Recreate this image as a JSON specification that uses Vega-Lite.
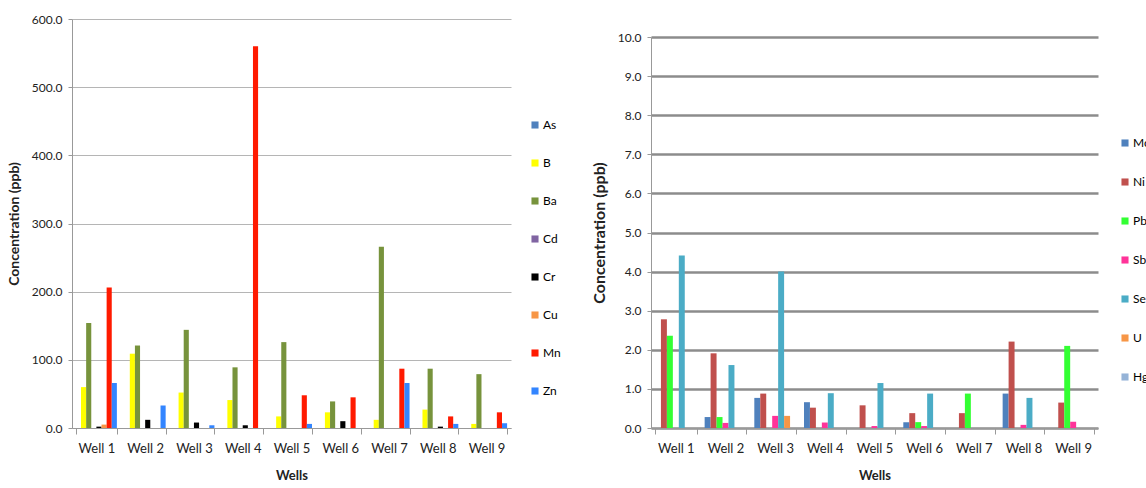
{
  "$schema": "https://vega.github.io/schema/vega-lite/v6.json",
  "padding": {"left": 7, "top": 13, "right": 0, "bottom": 0},
  "background": "white",
  "config": {
    "font": "Lato",
    "view": {"stroke": null},
    "axis": {"labelColor": "#222", "titleColor": "#222", "labelFont": "Lato", "titleFont": "Lato"},
    "legend": {"labelFont": "Lato"}
  },
  "datasets": {
    "metals1": [
      {"well": "Well 1", "element": "B", "value": 60},
      {"well": "Well 1", "element": "Ba", "value": 154},
      {"well": "Well 1", "element": "Cr", "value": 2},
      {"well": "Well 1", "element": "Cu", "value": 5},
      {"well": "Well 1", "element": "Mn", "value": 206},
      {"well": "Well 1", "element": "Zn", "value": 66},
      {"well": "Well 2", "element": "B", "value": 109},
      {"well": "Well 2", "element": "Ba", "value": 121},
      {"well": "Well 2", "element": "Cr", "value": 12},
      {"well": "Well 2", "element": "Zn", "value": 33},
      {"well": "Well 3", "element": "B", "value": 52},
      {"well": "Well 3", "element": "Ba", "value": 144},
      {"well": "Well 3", "element": "Cr", "value": 8},
      {"well": "Well 3", "element": "Zn", "value": 4},
      {"well": "Well 4", "element": "B", "value": 41},
      {"well": "Well 4", "element": "Ba", "value": 89},
      {"well": "Well 4", "element": "Cr", "value": 4},
      {"well": "Well 4", "element": "Mn", "value": 560},
      {"well": "Well 5", "element": "B", "value": 17},
      {"well": "Well 5", "element": "Ba", "value": 126},
      {"well": "Well 5", "element": "Mn", "value": 48},
      {"well": "Well 5", "element": "Zn", "value": 6},
      {"well": "Well 6", "element": "B", "value": 23},
      {"well": "Well 6", "element": "Ba", "value": 39},
      {"well": "Well 6", "element": "Cr", "value": 10},
      {"well": "Well 6", "element": "Mn", "value": 45},
      {"well": "Well 7", "element": "B", "value": 12},
      {"well": "Well 7", "element": "Ba", "value": 266},
      {"well": "Well 7", "element": "Mn", "value": 87},
      {"well": "Well 7", "element": "Zn", "value": 66},
      {"well": "Well 8", "element": "B", "value": 27},
      {"well": "Well 8", "element": "Ba", "value": 87},
      {"well": "Well 8", "element": "Cr", "value": 2},
      {"well": "Well 8", "element": "Mn", "value": 17},
      {"well": "Well 8", "element": "Zn", "value": 6},
      {"well": "Well 9", "element": "B", "value": 6},
      {"well": "Well 9", "element": "Ba", "value": 79},
      {"well": "Well 9", "element": "Mn", "value": 23},
      {"well": "Well 9", "element": "Zn", "value": 7}
    ],
    "metals2": [
      {"well": "Well 1", "element": "Ni", "value": 2.78},
      {"well": "Well 1", "element": "Pb", "value": 2.36},
      {"well": "Well 1", "element": "Se", "value": 4.41},
      {"well": "Well 2", "element": "Mo", "value": 0.28},
      {"well": "Well 2", "element": "Ni", "value": 1.91},
      {"well": "Well 2", "element": "Pb", "value": 0.28},
      {"well": "Well 2", "element": "Sb", "value": 0.13},
      {"well": "Well 2", "element": "Se", "value": 1.61},
      {"well": "Well 3", "element": "Mo", "value": 0.77},
      {"well": "Well 3", "element": "Ni", "value": 0.88},
      {"well": "Well 3", "element": "Sb", "value": 0.31},
      {"well": "Well 3", "element": "Se", "value": 4.0},
      {"well": "Well 3", "element": "U", "value": 0.31},
      {"well": "Well 4", "element": "Mo", "value": 0.66},
      {"well": "Well 4", "element": "Ni", "value": 0.52},
      {"well": "Well 4", "element": "Sb", "value": 0.14},
      {"well": "Well 4", "element": "Se", "value": 0.89},
      {"well": "Well 5", "element": "Ni", "value": 0.58},
      {"well": "Well 5", "element": "Sb", "value": 0.05},
      {"well": "Well 5", "element": "Se", "value": 1.15},
      {"well": "Well 6", "element": "Mo", "value": 0.15},
      {"well": "Well 6", "element": "Ni", "value": 0.38},
      {"well": "Well 6", "element": "Pb", "value": 0.15},
      {"well": "Well 6", "element": "Sb", "value": 0.05},
      {"well": "Well 6", "element": "Se", "value": 0.88},
      {"well": "Well 7", "element": "Ni", "value": 0.38},
      {"well": "Well 7", "element": "Pb", "value": 0.88},
      {"well": "Well 8", "element": "Mo", "value": 0.88},
      {"well": "Well 8", "element": "Ni", "value": 2.21},
      {"well": "Well 8", "element": "Sb", "value": 0.08},
      {"well": "Well 8", "element": "Se", "value": 0.77},
      {"well": "Well 9", "element": "Ni", "value": 0.65},
      {"well": "Well 9", "element": "Pb", "value": 2.1},
      {"well": "Well 9", "element": "Sb", "value": 0.16}
    ]
  },
  "spacing": 30,
  "center": true,
  "resolve": {"scale": {"color": "independent", "xOffset": "independent", "x": "independent", "y": "independent"}, "legend": {"color": "independent"}},
  "hconcat": [
    {
      "width": 439,
      "height": 409,
      "title": {"text": " ", "orient": "bottom", "fontSize": 10, "offset": 8},
      "data": {"name": "metals1"},
      "mark": {"type": "bar"},
      "encoding": {
        "x": {
          "field": "well", "type": "nominal", "sort": null,
          "scale": {"domain": ["Well 1","Well 2","Well 3","Well 4","Well 5","Well 6","Well 7","Well 8","Well 9"], "paddingInner": 0.16, "paddingOuter": 0.08},
          "axis": {"title": "Wells", "titleFontWeight": "bold", "titleFontSize": 13, "titlePadding": 14, "labelAngle": 0, "labelFontSize": 13, "labelPadding": 8, "tickBand": "extent", "tickSize": 6, "tickColor": "#999", "domainColor": "#999", "grid": false}
        },
        "xOffset": {"field": "element", "type": "nominal", "scale": {"domain": ["As","B","Ba","Cd","Cr","Cu","Mn","Zn"], "paddingInner": 0}},
        "y": {
          "field": "value", "type": "quantitative",
          "scale": {"domain": [0, 600], "nice": false},
          "axis": {"title": "Concentration (ppb)", "titleFontWeight": "bold", "titleFontSize": 14, "titlePadding": 10, "values": [0,100,200,300,400,500,600], "format": ".1f", "labelFontSize": 12, "labelPadding": 6, "tickSize": 4, "tickColor": "#999", "domainColor": "#999", "gridColor": "#b5b5b5", "gridWidth": 1}
        },
        "color": {
          "field": "element", "type": "nominal",
          "scale": {"domain": ["As","B","Ba","Cd","Cr","Cu","Mn","Zn"], "range": ["#4F81BD","#FFFF00","#77933C","#8064A2","#000000","#F79646","#FF1A00","#3385FF"]},
          "legend": {"title": null, "orient": "none", "legendX": 457, "legendY": 100, "symbolType": "square", "symbolSize": 50, "symbolStrokeWidth": 0, "labelFontSize": 12, "rowPadding": 26, "labelOffset": 2}
        }
      }
    },
    {
      "width": 447,
      "height": 391,
      "data": {"name": "metals2"},
      "mark": {"type": "bar"},
      "encoding": {
        "x": {
          "field": "well", "type": "nominal", "sort": null,
          "scale": {"domain": ["Well 1","Well 2","Well 3","Well 4","Well 5","Well 6","Well 7","Well 8","Well 9"], "paddingInner": 0.16, "paddingOuter": 0.08},
          "axis": {"title": "Wells", "titleFontWeight": "bold", "titleFontSize": 13, "titlePadding": 14, "labelAngle": 0, "labelFontSize": 13, "labelPadding": 8, "tickBand": "extent", "tickSize": 6, "tickColor": "#999", "domainColor": "#999", "grid": false}
        },
        "xOffset": {"field": "element", "type": "nominal", "scale": {"domain": ["Mo","Ni","Pb","Sb","Se","U","Hg"], "paddingInner": 0}},
        "y": {
          "field": "value", "type": "quantitative",
          "scale": {"domain": [0, 10], "nice": false},
          "axis": {"title": "Concentration (ppb)", "titleFontWeight": "bold", "titleFontSize": 16, "titlePadding": 10, "values": [0,1,2,3,4,5,6,7,8,9,10], "format": ".1f", "labelFontSize": 12, "labelPadding": 6, "tickSize": 4, "tickColor": "#999", "domainColor": "#999", "gridColor": "#8c8c8c", "gridWidth": 2.5}
        },
        "color": {
          "field": "element", "type": "nominal",
          "scale": {"domain": ["Mo","Ni","Pb","Sb","Se","U","Hg"], "range": ["#4F81BD","#C0504D","#33FF33","#FF3399","#4BACC6","#F79646","#95B3D7"]},
          "legend": {"title": null, "orient": "none", "legendX": 468, "legendY": 100, "symbolType": "square", "symbolSize": 50, "symbolStrokeWidth": 0, "labelFontSize": 12, "rowPadding": 27, "labelOffset": 2}
        }
      }
    }
  ]
}
